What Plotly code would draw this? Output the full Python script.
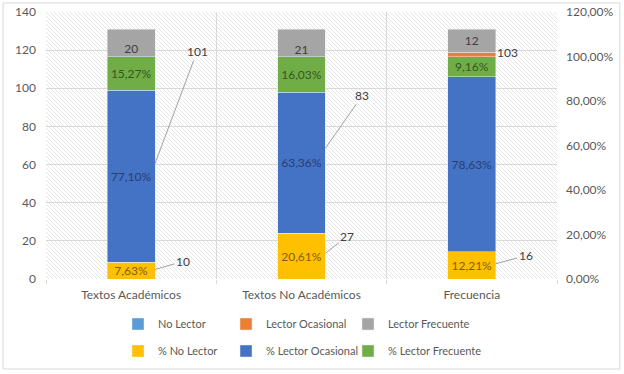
import base64
import plotly.graph_objects as go

categories = ["Textos Académicos", "Textos No Académicos", "Frecuencia"]
no_lector = [10, 27, 16]
lector_ocasional = [101, 83, 103]
lector_frecuente = [20, 21, 12]
pct_no_lector = [0.0763, 0.2061, 0.1221]
pct_lector_ocasional = [0.7710, 0.6336, 0.7863]
pct_lector_frecuente = [0.1527, 0.1603, 0.0916]

xs = list(range(len(categories)))
BW = 0.28
FONT = "Lato"
FS = 12
GRAY_TXT = "#595959"
GRID = "#d9d9d9"

fig = go.Figure()

common = dict(width=BW, hoverinfo="skip", textangle=0, constraintext="none")

# count series (left axis)
fig.add_bar(x=xs, y=no_lector, name="No Lector", marker_color="#5B9BD5",
            yaxis="y", legend="legend", **common)
fig.add_bar(x=xs, y=lector_ocasional, name="Lector Ocasional", marker_color="#ED7D31",
            yaxis="y", legend="legend2", **common)
fig.add_bar(x=xs, y=lector_frecuente, name="Lector Frecuente", marker_color="#A5A5A5",
            yaxis="y", legend="legend3",
            text=[str(v) for v in lector_frecuente], textposition="inside",
            insidetextanchor="middle",
            textfont=dict(color="#404040", size=FS, family=FONT), **common)

# percentage series (right axis)
fig.add_bar(x=xs, y=pct_no_lector, name="% No Lector", marker_color="#FFC000",
            yaxis="y2", legend="legend4",
            texttemplate="%{y:.2%}", textposition="inside", insidetextanchor="middle",
            textfont=dict(color="#7F6000", size=FS, family=FONT), **common)
fig.add_bar(x=xs, y=pct_lector_ocasional, name="% Lector Ocasional", marker_color="#4472C4",
            yaxis="y2", legend="legend5",
            texttemplate="%{y:.2%}", textposition="inside", insidetextanchor="middle",
            textfont=dict(color="#263F73", size=FS, family=FONT), **common)
fig.add_bar(x=xs, y=pct_lector_frecuente, name="% Lector Frecuente", marker_color="#70AD47",
            yaxis="y2", legend="legend6",
            texttemplate="%{y:.2%}", textposition="inside", insidetextanchor="middle",
            textfont=dict(color="#375623", size=FS, family=FONT), **common)

# outside count labels with leader lines
nl_offsets = [(28, -8), (22, -17), (30, -8)]
lo_offsets = [(42, -112), (37, -53), None]
for i in xs:
    ax, ay = nl_offsets[i]
    fig.add_annotation(x=i + BW / 2, y=no_lector[i] / 2, xref="x", yref="y",
                       text=str(no_lector[i]), showarrow=True, arrowhead=0,
                       arrowwidth=0.8, arrowcolor="#8c8c8c", ax=ax, ay=ay, standoff=0,
                       font=dict(color="#404040", size=FS, family=FONT))
    yc = no_lector[i] + lector_ocasional[i] / 2
    if lo_offsets[i] is not None:
        ax, ay = lo_offsets[i]
        fig.add_annotation(x=i + BW / 2, y=yc, xref="x", yref="y",
                           text=str(lector_ocasional[i]), showarrow=True, arrowhead=0,
                           arrowwidth=0.8, arrowcolor="#8c8c8c", ax=ax, ay=ay, standoff=0,
                           font=dict(color="#404040", size=FS, family=FONT))
    else:
        fig.add_annotation(x=i + BW / 2, y=no_lector[i] + lector_ocasional[i], xref="x", yref="y",
                           text=str(lector_ocasional[i]), showarrow=False,
                           xanchor="left", yanchor="middle", xshift=-1,
                           font=dict(color="#404040", size=FS, family=FONT))

# hatched plot background
svg = ("<svg xmlns='http://www.w3.org/2000/svg' width='511' height='267'>"
       "<defs><pattern id='p' width='4' height='4' patternUnits='userSpaceOnUse'>"
       "<path d='M0,0 L4,4 M-1,3 L1,5 M3,-1 L5,1' stroke='#e3e3e3' stroke-width='0.9'/>"
       "</pattern></defs><rect width='100%' height='100%' fill='white'/>"
       "<rect width='100%' height='100%' fill='url(#p)'/></svg>")
src = "data:image/svg+xml;base64," + base64.b64encode(svg.encode()).decode()
fig.add_layout_image(source=src, xref="paper", yref="paper", x=0, y=1, sizex=1, sizey=1,
                     xanchor="left", yanchor="top", sizing="stretch", layer="below")

# outer border
fig.add_shape(type="rect", xref="paper", yref="paper",
              x0=-0.084, x1=1.123, y0=-0.337, y1=1.034,
              line=dict(color="#d9d9d9", width=1), fillcolor="rgba(0,0,0,0)")

leg = dict(orientation="h", xref="container", yref="container",
           xanchor="left", yanchor="middle",
           font=dict(size=11, color=GRAY_TXT, family=FONT), bgcolor="rgba(0,0,0,0)")
row1_y, row2_y = 1 - 324 / 374, 1 - 351 / 374
col_x = [118 / 624, 226 / 624, 348 / 624]

fig.update_layout(
    width=624, height=374,
    margin=dict(l=46, r=67, t=12, b=95, autoexpand=False),
    barmode="stack",
    separators=",.",
    paper_bgcolor="white", plot_bgcolor="white",
    font=dict(family=FONT, size=FS, color=GRAY_TXT),
    xaxis=dict(range=[-0.5, 2.5], tickvals=xs, ticktext=categories, showgrid=False,
               zeroline=False, ticks="", tickfont=dict(size=FS, color=GRAY_TXT),
               ticklabelstandoff=7,
               minor=dict(tickvals=[-0.5, 0.5, 1.5, 2.5], showgrid=True, gridcolor=GRID,
                          ticks="outside", ticklen=4, tickcolor=GRID, gridwidth=1),
               showline=False, fixedrange=True, automargin=False),
    yaxis=dict(range=[0, 140], dtick=20, showgrid=True, gridcolor=GRID, zeroline=False,
               showline=False, ticks="", ticklabelstandoff=9, automargin=False,
               tickfont=dict(size=FS, color=GRAY_TXT)),
    yaxis2=dict(range=[0, 1.2], dtick=0.2, tickformat=".2%", overlaying="y", side="right",
                showgrid=False, zeroline=False, showline=False, ticks="", automargin=False,
                ticklabelstandoff=8, tickfont=dict(size=FS, color=GRAY_TXT)),
    legend=dict(x=col_x[0], y=row1_y, **leg),
    legend2=dict(x=col_x[1], y=row1_y, **leg),
    legend3=dict(x=col_x[2], y=row1_y, **leg),
    legend4=dict(x=col_x[0], y=row2_y, **leg),
    legend5=dict(x=col_x[1], y=row2_y, **leg),
    legend6=dict(x=col_x[2], y=row2_y, **leg),
    showlegend=True,
)

fig.write_html("out.html", config={"displayModeBar": False},
               post_script="document.body.style.margin='0';")
